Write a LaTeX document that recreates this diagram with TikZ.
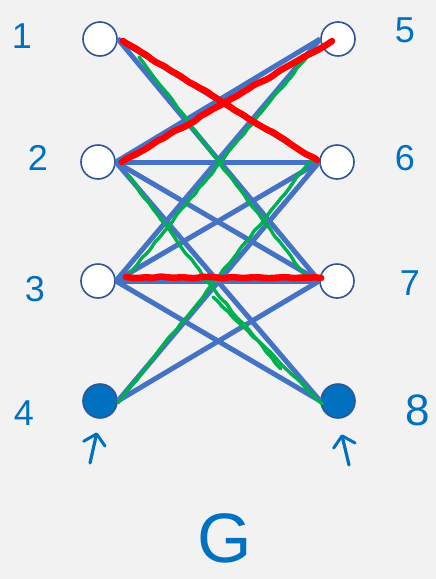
\documentclass[tikz,border=0pt]{standalone}
\usepackage{fontspec}
\setmainfont{Liberation Sans}
\usetikzlibrary{calc,arrows.meta,decorations.pathmorphing}
\definecolor{bg}{HTML}{F2F2F2}
\definecolor{eb}{HTML}{4472C4}
\definecolor{nb}{HTML}{2F5597}
\definecolor{lb}{HTML}{0070C0}
\definecolor{rd}{HTML}{FF0000}
\definecolor{gr}{HTML}{00B050}
\begin{document}
\begin{tikzpicture}[x=1pt,y=-1pt,
  vtx/.style={circle,draw=nb,line width=1.6pt,fill=white,minimum size=34pt,inner sep=0pt},
  vfill/.style={vtx,fill=lb},
  bedge/.style={draw=eb,line width=5pt},
  wob/.style={decorate,decoration={random steps,segment length=7pt,amplitude=0.9pt},rounded corners=2pt},
  redge/.style={draw=rd,line width=6.5pt,line cap=round,line join=round,wob},
  gedge/.style={draw=gr,line width=3.4pt,line cap=round,line join=round,wob},
  lbl/.style={text=lb,font=\fontsize{36}{40}\selectfont,inner sep=0pt},
  arr/.style={draw=lb,line width=3.2pt,line cap=round,-{Straight Barb[length=10pt,width=22pt,line width=3pt,round]}},
]
\pgfmathsetseed{11}
\fill[bg] (0,0) rectangle (436,579);
\useasboundingbox (0,0) rectangle (436,579);

% vertices
\node[vtx] (n1) at (100,39) {};
\node[vtx] (n2) at (98,162) {};
\node[vtx] (n3) at (98,281) {};
\node[vfill] (n4) at (100,401) {};
\node[vtx] (n5) at (338,39) {};
\node[vtx] (n6) at (337,162) {};
\node[vtx] (n7) at (337,281) {};
\node[vfill] (n8) at (338,401) {};

% blue edges
\foreach \a/\b in {n1/n6,n1/n7,n2/n5,n2/n6,n2/n7,n2/n8,n3/n5,n3/n6,n3/n7,n3/n8,n4/n6,n4/n7}
  \draw[bedge] (\a.east) -- (\b.west);

% green strokes
\coordinate (gA) at (281,369);
\coordinate (gB) at (213,297);
\draw[gedge] ($(n1.center)+(39,18)$) -- ($(n7.west)+(-13,-4)$);
\draw[gedge] ($(n5.center)+(-28,14)$) -- ($(n3.east)+(15,-9)$);
\draw[gedge] ($(n6.west)+(-8,-2)$) -- ($(n4.east)+(0,2)$);
\draw[gedge] ($(n2.east)+(12,13)$) -- (207,281) -- (gA);
\draw[gedge] (gB) -- ($(n8.west)+(2,3)$);

% red strokes
\draw[redge] ($(n1.east)+(5,2)$) -- ($(n6.west)+(-2,-2)$);
\draw[redge] ($(n2.east)+(6,0)$) -- ($(n5.center)+(-6,2)$);
\draw[redge] ($(n3.east)+(10,-4)$) -- ($(n7.west)+(2,-3)$);

% labels
\node[lbl] (l1) at (22,36) {1};
\node[lbl] (l2) at (38,158) {2};
\node[lbl] (l3) at (35,289) {3};
\node[lbl] (l4) at (24,413) {4};
\node[lbl] (l5) at (405,30) {5};
\node[lbl] (l6) at (405,158) {6};
\node[lbl] (l7) at (410,283) {7};
\node[lbl,font=\fontsize{44}{48}\selectfont] (l8) at (418,410) {8};
\node[lbl,font=\fontsize{70}{74}\selectfont] (lG) at (225,538) {G};

% arrows pointing at the filled vertices
\coordinate (a4) at (90,463);
\coordinate (a8) at (349,465);
\draw[arr,shorten >=14pt] (a4) -- (n4.south);
\draw[arr,shorten >=16pt] (a8) -- (n8.south);
\end{tikzpicture}
\end{document}
